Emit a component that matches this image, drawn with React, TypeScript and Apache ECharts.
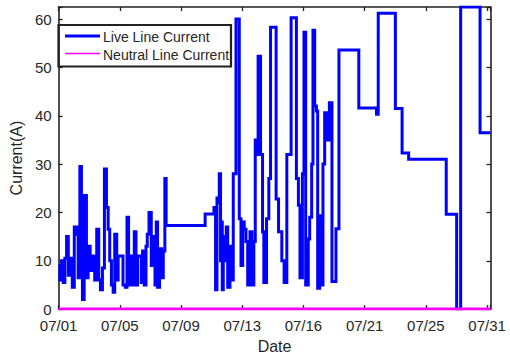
import React, { useEffect, useRef } from "react";
import * as echarts from "echarts";

// x values are days after 07/01 00:00
const xTickLabels = ["07/01", "07/05", "07/09", "07/13", "07/16", "07/21", "07/25", "07/31"];
const xTickStep = 30 / 7;
const xMax = 30.24;
const yMax = 62.5;

const liveDays = [
  0, 0.09, 0.21, 0.33, 0.44, 0.56, 0.68, 0.79, 0.96, 1.10,
  1.28, 1.37, 1.49, 1.60, 1.67, 1.79, 1.95, 2.07, 2.21, 2.35,
  2.53, 2.67, 2.81, 2.93, 3.07, 3.21, 3.35, 3.47, 3.58, 3.70,
  3.82, 3.93, 4.07, 4.17, 4.51, 4.67, 4.79, 4.90, 5.02, 5.18,
  5.30, 5.42, 5.53, 5.79, 5.88, 6.00, 6.12, 6.21, 6.33, 6.49,
  6.63, 6.75, 6.84, 6.93, 7.07, 7.21, 7.33, 7.44, 7.53, 10.26,
  10.88, 10.99, 11.09, 11.18, 11.25, 11.34, 11.39, 11.46, 11.53, 11.65,
  11.74, 11.84, 12.00, 12.12, 12.23, 12.42, 12.65, 12.77, 12.89, 13.00,
  13.12, 13.24, 13.40, 13.54, 13.67, 13.77, 13.91, 13.97, 14.14, 14.28,
  14.37, 14.56, 14.72, 14.84, 15.23, 15.40, 15.63, 15.79, 15.98, 16.28,
  16.65, 16.79, 16.90, 17.07, 17.18, 17.30, 17.48, 17.58, 17.72, 17.81,
  17.93, 18.05, 18.14, 18.28, 18.40, 18.51, 18.63, 18.75, 18.96, 19.14,
  19.42, 19.63, 21.02, 22.26, 22.38, 23.58, 24.05, 24.51, 27.14, 27.87,
  28.15, 29.51, 30.24,
];

const liveCurrent = [
  9, 6, 10, 5.5, 10.5, 15, 7, 10.5, 4.5, 17,
  15.5, 6.5, 29.5, 12, 2, 23.5, 6.5, 13, 8, 11,
  6, 16.5, 6, 4, 8.5, 29, 21, 16.5, 10, 5,
  3.5, 15.5, 6, 11, 5, 4.5, 19, 5, 11, 5,
  16, 5, 11, 5.5, 12, 5, 13, 15.5, 20, 9,
  15, 5, 18, 4.5, 12.5, 6.5, 12, 27, 17.3, 19.7,
  21, 4, 23, 22, 28, 10, 18, 4, 15, 10,
  17, 4.5, 13, 6, 28, 60, 18.7, 9, 18, 16.5,
  14, 5, 16, 5, 14, 35, 32, 52.3, 32, 16,
  5.5, 18.7, 27, 58.3, 22.8, 16, 10, 5.5, 32, 60.3,
  27, 21.5, 6.5, 28, 57.3, 5, 14.5, 19, 30, 57.7,
  42, 41, 4.3, 19.3, 5, 30, 40.6, 35, 42.7, 5.7,
  16.6, 53.6, 41.6, 40.3, 61.2, 41.5, 32.3, 31, 19.6, 0,
  62.5, 36.5, 36.5,
];

const neutralDays = [0, 30.24];
const neutralCurrent = [0, 0];

const FONT = "'Liberation Sans', Arial, Helvetica, sans-serif";
const AXIS_COLOR = "#222222";
const TEXT_COLOR = "#262626";

export default function App() {
  const ref = useRef<HTMLDivElement>(null);

  useEffect(() => {
    if (!ref.current) return;
    const chart = echarts.init(ref.current, undefined, { renderer: "svg" });

    const xFormatter = (v: number) => {
      const idx = Math.round(v / xTickStep);
      if (Math.abs(v - idx * xTickStep) < 1e-3 && idx >= 0 && idx < xTickLabels.length) {
        return xTickLabels[idx];
      }
      return "";
    };
    const yFormatter = (v: number) => (Math.abs(v % 10) < 1e-6 ? String(v) : "");

    const axisLine = { show: true, onZero: false, lineStyle: { color: AXIS_COLOR, width: 1.6 } };
    const axisTick = { show: true, inside: true, length: 4, lineStyle: { color: AXIS_COLOR, width: 1.3 } };

    chart.setOption({
      animation: false,
      backgroundColor: "#ffffff",
      grid: { left: 57, right: 19.5, top: 7, bottom: 48, containLabel: false },
      xAxis: [
        {
          type: "value",
          position: "bottom",
          min: 0,
          max: xMax,
          interval: xTickStep,
          axisLine,
          axisTick,
          splitLine: { show: false },
          axisLabel: { formatter: xFormatter, fontSize: 15, lineHeight: 15, color: TEXT_COLOR, fontFamily: FONT, margin: 9 },
          name: "Date",
          nameLocation: "middle",
          nameGap: 28,
          nameTextStyle: { fontSize: 16, color: TEXT_COLOR, fontFamily: FONT },
        },
        {
          type: "value",
          position: "top",
          min: 0,
          max: xMax,
          interval: xTickStep,
          axisLine,
          axisTick,
          splitLine: { show: false },
          axisLabel: { show: false },
        },
      ],
      yAxis: [
        {
          type: "value",
          position: "left",
          min: 0,
          max: yMax,
          interval: 10,
          axisLine,
          axisTick,
          splitLine: { show: false },
          axisLabel: { formatter: yFormatter, fontSize: 15, lineHeight: 15, color: TEXT_COLOR, fontFamily: FONT, margin: 7 },
          name: "Current(A)",
          nameLocation: "middle",
          nameGap: 29,
          nameTextStyle: { fontSize: 16, color: TEXT_COLOR, fontFamily: FONT },
        },
        {
          type: "value",
          position: "right",
          min: 0,
          max: yMax,
          interval: 10,
          axisLine,
          axisTick,
          splitLine: { show: false },
          axisLabel: { show: false },
        },
      ],
      series: [
        {
          name: "Live Line Current",
          type: "line",
          step: "end",
          xAxisIndex: 0,
          yAxisIndex: 0,
          showSymbol: false,
          symbol: "none",
          lineStyle: { color: "#0000ff", width: 3, join: "miter" },
          data: liveDays.map((d, i) => [d, liveCurrent[i]]),
        },
        {
          name: "Neutral Line Current",
          type: "line",
          xAxisIndex: 0,
          yAxisIndex: 0,
          showSymbol: false,
          symbol: "none",
          lineStyle: { color: "#ff00ff", width: 3 },
          data: neutralDays.map((d, i) => [d, neutralCurrent[i]]),
        },
      ],
      graphic: [
        {
          type: "group",
          z: 100,
          children: [
            {
              type: "rect",
              shape: { x: 58.5, y: 25, width: 172.5, height: 41.5 },
              style: { fill: "#ffffff", stroke: AXIS_COLOR, lineWidth: 2.2 },
            },
            {
              type: "line",
              shape: { x1: 65, y1: 36, x2: 100, y2: 36 },
              style: { stroke: "#0000ff", lineWidth: 3 },
            },
            {
              type: "text",
              x: 103,
              y: 36.5,
              style: {
                text: "Live Line Current",
                fontSize: 14,
                fontFamily: FONT,
                fill: TEXT_COLOR,
                verticalAlign: "middle",
                align: "left",
              },
            },
            {
              type: "line",
              shape: { x1: 65, y1: 53.5, x2: 100, y2: 53.5 },
              style: { stroke: "#ff00ff", lineWidth: 1.5 },
            },
            {
              type: "text",
              x: 103,
              y: 54.5,
              style: {
                text: "Neutral Line Current",
                fontSize: 14,
                fontFamily: FONT,
                fill: TEXT_COLOR,
                verticalAlign: "middle",
                align: "left",
              },
            },
          ],
        },
      ],
    });

    return () => {
      chart.dispose();
    };
  }, []);

  return (
    <div
      ref={ref}
      style={{ position: "absolute", left: 0, top: 0, width: 510, height: 359, background: "#fff" }}
    />
  );
}
